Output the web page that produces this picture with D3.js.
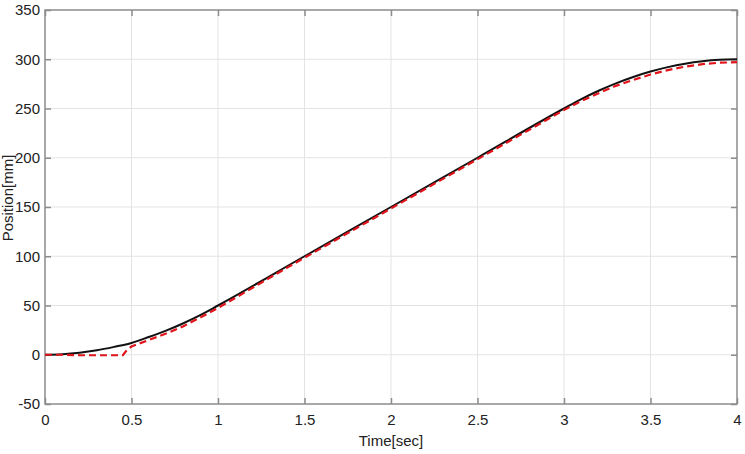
<!DOCTYPE html>
<html><head><meta charset="utf-8">
<script src="https://cdn.jsdelivr.net/npm/d3@7"></script>
<style>body{margin:0;background:#fff}svg{display:block}text{font-family:"Liberation Sans",Arial,sans-serif}</style>
</head><body><svg id="c" width="745" height="454"></svg>
<script>
const xTicks=[0,0.5,1,1.5,2,2.5,3,3.5,4];
const xTickLabels=["0","0.5","1","1.5","2","2.5","3","3.5","4"];
const yTicks=[-50,0,50,100,150,200,250,300,350];
const yTickLabels=["-50","0","50","100","150","200","250","300","350"];
const refT=[0,0.1,0.2,0.3,0.4,0.5,0.6,0.7,0.8,0.9,1.0,1.5,2.0,2.5,3.0,3.1,3.2,3.3,3.4,3.5,3.6,3.7,3.8,3.9,4.0];
const refPos=[0,0.5,2,4.5,8,12,18,24.5,32,40.5,50,100,150,200,250,259.5,268,275.5,282,287.5,292,295.5,298,299.5,300];
const measT=[0,0.1,0.2,0.3,0.4,0.45,0.47,0.5,0.6,0.7,0.8,0.9,1.0,1.2,1.4,1.6,1.8,2.0,2.2,2.4,2.6,2.8,3.0,3.1,3.2,3.3,3.4,3.5,3.6,3.7,3.8,3.9,4.0];
const measPos=[0,0,-0.5,-0.5,-0.5,-0.5,4,8.5,15,21.5,29,38,47.5,68,88.5,108.5,128.5,148.5,168.5,188.5,208.5,228.5,248.5,257.5,265.5,273,279,284.5,289,292.5,295,296.5,297];

const svg=d3.select("#c");
const L=45,R=737,T=10,B=404;
const x=d3.scaleLinear().domain([0,4]).range([L,R]);
const y=d3.scaleLinear().domain([-50,350]).range([B,T]);
const grid="#e3e3e3", ax="#8c8c8c";
svg.append("g").selectAll("line").data(xTicks.slice(1,-1)).join("line")
 .attr("x1",d=>x(d)).attr("x2",d=>x(d)).attr("y1",T).attr("y2",B).attr("stroke",grid).attr("stroke-width",1);
svg.append("g").selectAll("line").data(yTicks.slice(1,-1)).join("line")
 .attr("y1",d=>y(d)).attr("y2",d=>y(d)).attr("x1",L).attr("x2",R).attr("stroke",grid).attr("stroke-width",1);
const fmtX=d=>xTickLabels[xTicks.indexOf(d)], fmtY=d=>yTickLabels[yTicks.indexOf(d)];
function style(g){g.select(".domain").remove();g.selectAll(".tick line").attr("stroke",ax).attr("stroke-width",1.5);
 g.selectAll("text").attr("fill","#222").style("font-size","15px");}
svg.append("g").attr("transform",`translate(0,${B})`).call(d3.axisBottom(x).tickValues(xTicks).tickFormat(fmtX).tickSizeInner(-6).tickSizeOuter(0).tickPadding(10)).call(style);
svg.append("g").attr("transform",`translate(0,${T})`).call(d3.axisTop(x).tickValues(xTicks).tickFormat("").tickSizeInner(-6).tickSizeOuter(0)).call(style);
svg.append("g").attr("transform",`translate(${L},0)`).call(d3.axisLeft(y).tickValues(yTicks).tickFormat(fmtY).tickSizeInner(-6).tickSizeOuter(0).tickPadding(5)).call(style);
svg.append("g").attr("transform",`translate(${R},0)`).call(d3.axisRight(y).tickValues(yTicks).tickFormat("").tickSizeInner(-6).tickSizeOuter(0)).call(style);
svg.append("rect").attr("x",L).attr("y",T).attr("width",R-L).attr("height",B-T).attr("fill","none").attr("stroke",ax).attr("stroke-width",1.5);
const ref=refT.map((t,i)=>[t,refPos[i]]), meas=measT.map((t,i)=>[t,measPos[i]]);
const line=d3.line().x(d=>x(d[0])).y(d=>y(d[1])).curve(d3.curveMonotoneX);
svg.append("path").datum(ref).attr("d",line).attr("fill","none").attr("stroke","#111").attr("stroke-width",2);
svg.append("path").datum(meas).attr("d",d3.line().x(d=>x(d[0])).y(d=>y(d[1]))).attr("fill","none").attr("stroke","#e0141b").attr("stroke-width",2.2).attr("stroke-dasharray","7,4");
svg.append("text").attr("x",(L+R)/2).attr("y",446).attr("text-anchor","middle").style("font-size","15px").attr("fill","#222").text("Time[sec]");
svg.append("text").attr("transform",`translate(13,198) rotate(-90)`).attr("text-anchor","middle").style("font-size","15px").attr("fill","#222").text("Position[mm]");
</script></body></html>
